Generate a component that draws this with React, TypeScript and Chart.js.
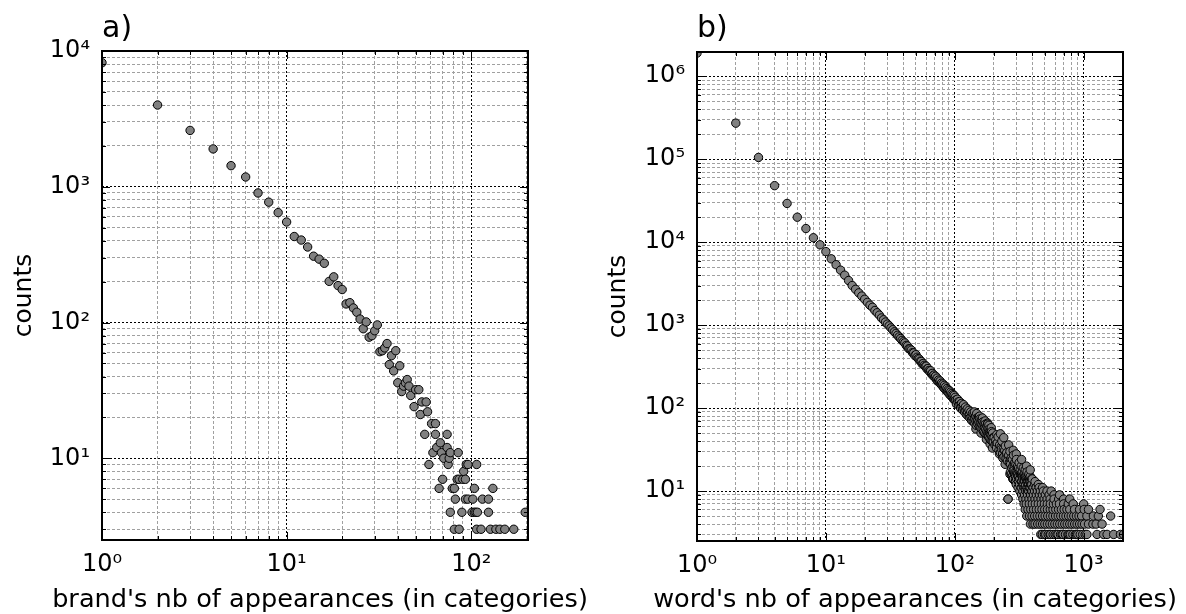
import React, { useEffect, useRef } from "react";
import { Chart, registerables } from "chart.js";

Chart.register(...registerables);

// ---------------- Panel a) brands ----------------
const brandAppearances = [
  1, 2, 3, 4, 5, 6, 7, 8, 9, 10,
  11, 12, 13, 14, 15, 16, 17, 18, 19, 20,
  21, 22, 23, 24, 25, 26, 27, 28, 29, 30,
  31, 32, 33, 34, 35, 36, 37, 38, 39, 40,
  41, 42, 43, 44, 45, 46, 47, 49, 50, 52,
  53, 54, 57, 58, 56, 61, 64, 64, 74, 68,
  65, 74, 62, 69, 71, 76, 77, 85, 59, 75,
  94, 96, 107, 91, 70, 84, 86, 90, 93, 67,
  79, 81, 104, 131, 82, 93, 96, 102, 115, 124,
  77, 89, 101, 104, 106, 108, 124, 196, 81, 86,
  107, 113, 127, 136, 143, 152, 170,
];
const brandCounts = [
  8200, 4000, 2600, 1900, 1430, 1180, 900, 770, 645, 550,
  430, 405, 360, 308, 293, 273, 201, 217, 187, 175,
  137, 140, 128, 119, 106, 90, 101, 78, 80, 87,
  96, 61, 62, 65, 70, 49, 57, 44, 62, 36,
  48, 31, 34, 36, 38, 34, 29, 24, 32, 32,
  21, 26, 26, 22, 15, 18, 18, 15, 15, 13,
  12, 12, 11, 11, 10, 10, 11, 11, 9, 9,
  9, 9, 9, 8, 7, 7, 7, 7, 7, 6,
  6, 6, 6, 6, 5, 5, 5, 5, 5, 5,
  4, 4, 4, 4, 4, 4, 4, 4, 3, 3,
  3, 3, 3, 3, 3, 3, 3,
];

// ---------------- Panel b) words ----------------
const wordHeadAppearances = [
  1, 2, 3, 4, 5, 6, 7, 8, 9, 10,
  11, 12, 13, 14, 15, 16, 17, 18, 19, 20,
  21, 22, 23, 24, 25, 26, 27, 28, 29, 30,
  31, 32, 33, 34, 35, 36, 37, 38, 39, 40,
];
const wordHeadCounts = [
  1900000, 272000, 105000, 48000, 29300, 20000, 14600, 11300, 9300, 7700,
  6300, 5350, 4600, 4000, 3450, 3000, 2700, 2450, 2240, 2050,
  1880, 1740, 1640, 1500, 1410, 1320, 1220, 1160, 1090, 1030,
  980, 925, 880, 830, 795, 755, 720, 690, 655, 630,
];
const wordMidAppearances = [
  41, 42, 43, 44, 45, 46, 47, 48, 49, 50,
  51, 52, 53, 54, 55, 56, 57, 58, 59, 60,
  61, 62, 63, 64, 65, 66, 67, 68, 69, 70,
  71, 72, 73, 74, 75, 76, 77, 78, 79, 80,
  81, 82, 83, 84, 85, 86, 87, 88, 89, 90,
  91, 92, 93, 94, 95, 96, 97, 98, 99, 100,
];
const wordMidCounts = [
  610, 570, 560, 520, 515, 500, 465, 462, 430, 440,
  410, 395, 390, 368, 365, 340, 345, 328, 318, 320,
  296, 300, 284, 275, 282, 258, 262, 245, 250, 236,
  242, 222, 230, 210, 218, 205, 212, 194, 200, 186,
  195, 176, 188, 170, 180, 162, 172, 158, 166, 150,
  162, 144, 156, 140, 150, 134, 145, 128, 142, 126,
];
const wordBandAppearances = [
  101, 102, 103, 105, 106, 107, 109, 110, 111, 113,
  114, 115, 117, 118, 119, 121, 122, 123, 125, 126,
  127, 129, 130, 131, 133, 134, 135, 137, 138, 139,
  141, 142, 143, 145, 146, 147, 149, 150, 151, 153,
  154, 155, 157, 158, 159, 161, 162, 163, 165, 166,
  167, 169, 170, 171, 173, 174, 175, 177, 178, 179,
  180, 181, 182, 183, 185, 186, 187, 189, 190, 191,
  193, 194, 195, 197, 198, 199,
];
const wordBandCounts = [
  135, 125, 112, 128, 118, 108, 120, 110, 100, 114,
  104, 95, 110, 98, 90, 103, 93, 84, 98, 88,
  80, 94, 83, 76, 90, 79, 71, 86, 75, 69,
  84, 74, 65, 80, 70, 62, 76, 70, 64, 78,
  68, 60, 74, 66, 58, 72, 63, 56, 68, 61,
  52, 66, 58, 50, 64, 56, 48, 61, 53, 47,
  66, 57, 50, 45, 56, 50, 43, 54, 48, 41,
  52, 46, 40, 50, 44, 39,
];
const wordSpreadAppearances = [
  202, 205, 208, 210, 211, 214, 217, 220, 223, 226,
  229, 230, 232, 235, 238, 241, 244, 247, 250, 251,
  253, 256, 259, 262, 265, 268, 270, 271, 274, 277,
  280, 283, 285, 286, 289, 290, 292, 295, 296, 298,
  301, 304, 307, 310, 311, 313, 316, 319, 322, 325,
  328, 330, 331, 334, 337, 340, 343, 346, 349, 350,
  352, 355, 358, 361, 364, 367, 370, 371, 373, 376,
  379, 382, 385, 388, 390, 391, 394, 397,
];
const wordSpreadCounts = [
  44, 36, 41, 37, 33, 38, 45, 31, 36, 29,
  34, 32, 40, 28, 32, 26, 31, 35, 25, 28,
  29, 23, 8, 27, 22, 30, 24, 21, 25, 19,
  24, 20, 14, 27, 18, 21, 22, 17, 13, 21,
  24, 16, 20, 15, 18, 19, 22, 14, 18, 16,
  20, 16, 13, 17, 15, 19, 12, 16, 14, 15,
  18, 11, 15, 13, 17, 10, 14, 13, 12, 16,
  11, 13, 15, 9, 12, 12, 14, 10,
];
// points standing out above / below the main band
const wordOutlierAppearances = [
  142, 148, 156, 164, 172, 180, 184, 192, 146, 160,
  176, 188, 196, 212, 226, 240, 262, 284, 300, 330,
  360, 385, 222, 236, 246, 268, 282,
];
const wordOutlierCounts = [
  90, 86, 80, 76, 70, 64, 62, 58, 56, 50,
  42, 37, 33, 48, 49, 44, 36, 31, 28, 24,
  20, 18, 28, 25, 21, 16, 14,
];
// low-count tail: one row of appearances per count value
const wordTailCounts = [17, 16, 15, 14, 13, 12, 11, 10, 9, 8, 7, 6, 5, 4, 3];
const wordTailAppearances = [
  [270, 286, 303, 321],
  [275, 291, 308, 326, 345],
  [280, 296, 314, 333, 353, 372],
  [285, 302, 320, 339, 359, 380, 400],
  [295, 312, 330, 349, 369, 390, 420],
  [300, 318, 336, 355, 375, 396, 418, 445],
  [310, 328, 346, 365, 385, 406, 428, 452, 480],
  [320, 338, 356, 375, 395, 416, 438, 462, 487, 520, 560],
  [330, 348, 367, 387, 408, 430, 454, 479, 505, 540, 590, 650],
  [259, 338, 357, 377, 398, 420, 443, 468, 494, 521, 550, 590, 640, 700, 780],
  [345, 359, 379, 400, 422, 445, 470, 496, 523, 552, 583, 615, 649, 700, 760, 830, 1000],
  [352, 370, 389, 409, 430, 452, 475, 499, 524, 551, 579, 608, 639, 672, 706, 742, 780, 850, 930, 1010, 1090, 1340],
  [362, 380, 398, 417, 437, 458, 480, 503, 527, 552, 578, 606, 635, 665, 697, 730, 765, 801, 839, 879, 921, 965, 1060, 1190, 1300, 1620],
  [386, 405, 420, 440, 460, 480, 500, 523, 547, 572, 598, 625, 653, 683, 714, 746, 780, 815, 852, 890, 930, 972, 1016, 1090, 1180, 1250, 1390],
  [465, 478, 497, 508, 531, 548, 555, 580, 601, 620, 633, 662, 680, 692, 723, 755, 770, 789, 825, 862, 880, 901, 941, 984, 1028, 1060, 1270, 1430, 1520, 1710, 1930, 2040],
];

const panelTitles = ["a)", "b)"];
const xAxisTitles = [
  "brand's nb of appearances (in categories)",
  "word's nb of appearances (in categories)",
];
const yAxisTitle = "counts";

// ---------------- helpers ----------------
const FONT_FAMILY = "'DejaVu Sans', 'Liberation Sans', sans-serif";
const FONT_SIZE = 24;
const LABEL_SIZE = 25.6;
const TITLE_SIZE = 30;
const LINE_H = 1.2;
const SUP: Record<string, string> = {
  "0": "\u2070", "1": "\u00B9", "2": "\u00B2", "3": "\u00B3", "4": "\u2074",
  "5": "\u2075", "6": "\u2076", "7": "\u2077", "8": "\u2078", "9": "\u2079", "-": "\u207B",
};

function isPow10(v: number) {
  const l = Math.log10(v);
  return Math.abs(l - Math.round(l)) < 1e-9;
}
function powLabel(v: number) {
  const e = String(Math.round(Math.log10(v)));
  return "10" + e.split("").map((c) => SUP[c] || c).join("");
}
function logTicks(min: number, max: number) {
  const out: { value: number; major: boolean }[] = [];
  const e0 = Math.floor(Math.log10(min));
  const e1 = Math.ceil(Math.log10(max));
  for (let e = e0; e <= e1; e++) {
    for (let m = 1; m <= 9; m++) {
      const v = m * Math.pow(10, e);
      if (v >= min * (1 - 1e-9) && v <= max * (1 + 1e-9)) out.push({ value: v, major: m === 1 });
    }
  }
  return out;
}
function pairs(xs: number[], ys: number[]) {
  return xs.map((x, i) => ({ x, y: ys[i] }));
}

const brandPoints = pairs(brandAppearances, brandCounts).sort((a, b) => a.x - b.x);
const wordPoints = [
  ...pairs(wordHeadAppearances, wordHeadCounts),
  ...pairs(wordMidAppearances, wordMidCounts),
  ...pairs(wordBandAppearances, wordBandCounts),
  ...pairs(wordSpreadAppearances, wordSpreadCounts),
  ...pairs(wordOutlierAppearances, wordOutlierCounts),
  ...wordTailAppearances.flatMap((row, i) => row.map((x) => ({ x, y: wordTailCounts[i] }))),
].sort((a, b) => a.x - b.x);

const framePlugin = {
  id: "mplFrame",
  afterDatasetsDraw(chart: any) {
    const { ctx, chartArea: a } = chart;
    const xs = chart.scales.x;
    const ys = chart.scales.y;
    ctx.save();
    ctx.strokeStyle = "#000";
    ctx.lineWidth = 1;
    ctx.setLineDash([]);
    ctx.beginPath();
    for (const t of xs.ticks) {
      const px = Math.round(xs.getPixelForValue(t.value)) + 0.5;
      const len = isPow10(t.value) ? 8 : 4;
      ctx.moveTo(px, a.bottom);
      ctx.lineTo(px, a.bottom - len);
      ctx.moveTo(px, a.top);
      ctx.lineTo(px, a.top + len);
    }
    for (const t of ys.ticks) {
      const py = Math.round(ys.getPixelForValue(t.value)) + 0.5;
      const len = isPow10(t.value) ? 8 : 4;
      ctx.moveTo(a.left, py);
      ctx.lineTo(a.left + len, py);
      ctx.moveTo(a.right, py);
      ctx.lineTo(a.right - len, py);
    }
    ctx.stroke();
    ctx.lineWidth = 2;
    ctx.strokeRect(a.left, a.top, a.right - a.left, a.bottom - a.top);
    ctx.restore();
  },
  afterDraw(chart: any) {
    // x-axis label, drawn unsqueezed (wider than the axes, as in the original)
    const { ctx, chartArea: a } = chart;
    const text = chart.options.plugins.mplFrame?.xLabel;
    if (!text) return;
    ctx.save();
    ctx.fillStyle = "#000";
    ctx.font = `normal ${LABEL_SIZE}px ${FONT_FAMILY}`;
    ctx.textAlign = "center";
    ctx.textBaseline = "alphabetic";
    ctx.fillText(text, (a.left + a.right) / 2 + 5, 607);
    ctx.restore();
  },
};

type PanelSpec = {
  left: number;
  w: number;
  h: number;
  title: string;
  xTitle: string;
  points: { x: number; y: number }[];
  xMin: number;
  xMax: number;
  yMin: number;
  yMax: number;
  area: { left: number; right: number; top: number; bottom: number };
  yTitlePad: number;
};

function buildConfig(p: PanelSpec): any {
  const font = { family: FONT_FAMILY, size: FONT_SIZE, weight: "normal" as const, lineHeight: LINE_H };
  const labelFont = { family: FONT_FAMILY, size: 25, weight: "normal" as const, lineHeight: LINE_H };
  const titleFont = { family: FONT_FAMILY, size: TITLE_SIZE, weight: "normal" as const, lineHeight: LINE_H };
  const tlh = TITLE_SIZE * LINE_H;
  const titleMid = 39.5 - 0.346 * TITLE_SIZE;
  const titleTop = titleMid - tlh / 2;
  const gridColor = (c: any) => (c.tick && isPow10(c.tick.value) ? "#000000" : "#a0a0a0");
  const gridDash = (c: any) => (c.tick ? (isPow10(c.tick.value) ? [2, 2] : [3, 2]) : []);
  const tickCb = (v: any) => (isPow10(Number(v)) ? powLabel(Number(v)) : "");
  return {
    type: "scatter",
    data: {
      datasets: [
        {
          data: p.points,
          pointRadius: 4.2,
          pointHoverRadius: 4.2,
          pointBackgroundColor: "#808080",
          pointBorderColor: "#000000",
          pointBorderWidth: 1,
          clip: 0,
        },
      ],
    },
    options: {
      responsive: false,
      animation: false,
      events: [],
      layout: { padding: { left: 0, top: 0, right: p.w - p.area.right, bottom: 0 } },
      plugins: {
        legend: { display: false },
        tooltip: { enabled: false },
        mplFrame: { xLabel: p.xTitle },
        title: {
          display: true,
          text: p.title,
          align: "start",
          fullSize: false,
          color: "#000",
          font: titleFont,
          padding: { top: titleTop, bottom: p.area.top - titleTop - tlh },
        },
      },
      scales: {
        x: {
          type: "logarithmic",
          position: "bottom",
          min: p.xMin,
          max: p.xMax,
          bounds: "data",
          afterBuildTicks: (s: any) => {
            s.ticks = logTicks(p.xMin, p.xMax);
          },
          afterFit: (s: any) => {
            s.height = p.h - p.area.bottom;
          },
          ticks: {
            autoSkip: false,
            maxRotation: 0,
            minRotation: 0,
            padding: 10,
            color: "#000",
            font,
            callback: tickCb,
          },
          grid: { drawTicks: false, color: gridColor, lineWidth: 1 },
          border: { display: false, dash: gridDash },
          title: { display: false },
        },
        y: {
          type: "logarithmic",
          position: "left",
          min: p.yMin,
          max: p.yMax,
          bounds: "data",
          afterBuildTicks: (s: any) => {
            s.ticks = logTicks(p.yMin, p.yMax);
          },
          afterFit: (s: any) => {
            s.width = p.area.left;
          },
          ticks: {
            autoSkip: false,
            padding: 12,
            color: "#000",
            font,
            callback: tickCb,
          },
          grid: { drawTicks: false, color: gridColor, lineWidth: 1 },
          border: { display: false, dash: gridDash },
          title: { display: true, text: yAxisTitle, color: "#000", font: labelFont, padding: { top: p.yTitlePad, bottom: 0 } },
        },
      },
    },
    plugins: [framePlugin],
  };
}

function Panel({ spec }: { spec: PanelSpec }) {
  const ref = useRef<HTMLCanvasElement>(null);
  useEffect(() => {
    if (!ref.current) return;
    const chart = new Chart(ref.current, buildConfig(spec));
    return () => chart.destroy();
  }, [spec]);
  return (
    <canvas
      ref={ref}
      width={spec.w}
      height={spec.h}
      style={{ position: "absolute", left: spec.left, top: 0, width: spec.w, height: spec.h }}
    />
  );
}

const panels: PanelSpec[] = [
  {
    left: 0,
    w: 593,
    h: 614,
    title: panelTitles[0],
    xTitle: xAxisTitles[0],
    points: brandPoints,
    xMin: 1,
    xMax: 203,
    yMin: 2.5,
    yMax: 10000,
    area: { left: 102, right: 528, top: 51, bottom: 540 },
    yTitlePad: 9.5,
  },
  {
    left: 593,
    w: 593,
    h: 614,
    title: panelTitles[1],
    xTitle: xAxisTitles[1],
    points: wordPoints,
    xMin: 1,
    xMax: 2020,
    yMin: 2.5,
    yMax: 1960000,
    area: { left: 104, right: 530, top: 52, bottom: 541 },
    yTitlePad: 10.3,
  },
];

export default function App() {
  return (
    <div style={{ position: "absolute", left: 0, top: 0, width: 1186, height: 614, background: "#fff" }}>
      {panels.map((p, i) => (
        <Panel key={i} spec={p} />
      ))}
    </div>
  );
}
